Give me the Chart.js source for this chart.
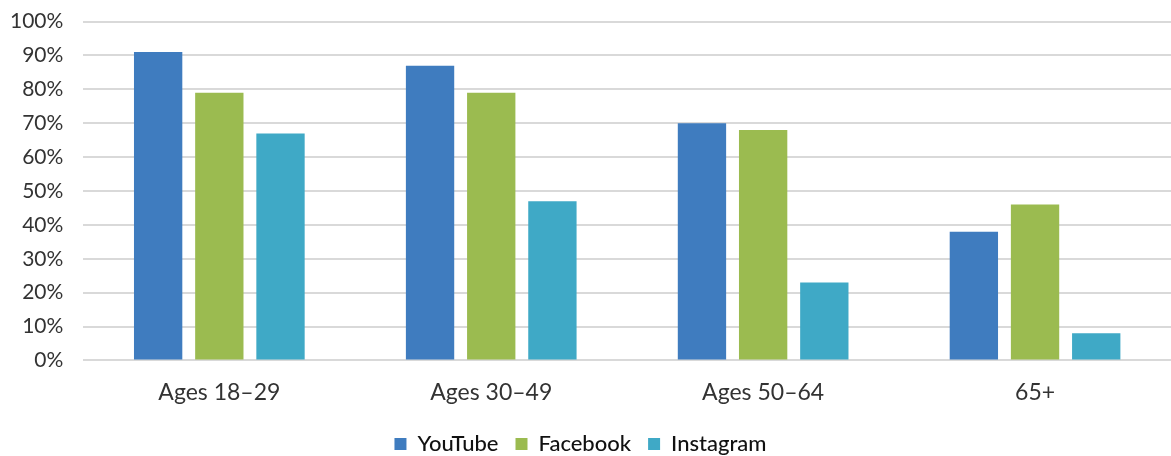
<!DOCTYPE html>
<html>
<head>
<meta charset="utf-8">
<script src="https://cdnjs.cloudflare.com/ajax/libs/Chart.js/4.4.1/chart.umd.min.js"></script>
<style>
  html, body { margin: 0; padding: 0; background: #fff; }
  #frame { width: 1171px; height: 456px; position: relative; overflow: hidden; }
  #wrap { position: absolute; left: 0; top: -11px; width: 1171px; height: 476px; }
</style>
</head>
<body>
<div id="frame"><div id="wrap"><canvas id="chart"></canvas></div></div>
<script>
const categories = ['Ages 18\u201329', 'Ages 30\u201349', 'Ages 50\u201364', '65+'];
const youtube = [91, 87, 70, 38];
const facebook = [79, 79, 68, 46];
const instagram = [67, 47, 23, 8];
const yTicks = [0, 10, 20, 30, 40, 50, 60, 70, 80, 90, 100];

const FONT = 'Lato, "Noto Sans", sans-serif';

function bar(label, data, color) {
  return {
    label: label,
    data: data,
    backgroundColor: color,
    borderWidth: 0,
    barPercentage: 0.79,
    categoryPercentage: 0.675,
  };
}

new Chart(document.getElementById('chart').getContext('2d'), {
  type: 'bar',
  data: {
    labels: categories,
    datasets: [
      bar('YouTube', youtube, '#3F7CBF'),
      bar('Facebook', facebook, '#9BBB50'),
      bar('Instagram', instagram, '#3FA9C6'),
    ],
  },
  options: {
    responsive: true,
    maintainAspectRatio: false,
    animation: false,
    layout: { padding: { top: 0, right: 0, left: -10, bottom: 0 } },
    plugins: {
      tooltip: { enabled: false },
      legend: {
        position: 'bottom',
        labels: {
          boxWidth: 12,
          boxHeight: 12,
          padding: 17,
          color: '#111',
          font: { family: FONT, size: 22, weight: '500' },
        },
      },
    },
    scales: {
      x: {
        grid: { display: false },
        border: { display: false },
        ticks: { color: '#333', font: { family: FONT, size: 23 }, padding: 10 },
      },
      y: {
        min: 0,
        max: 100,
        afterBuildTicks: axis => { axis.ticks = yTicks.map(v => ({ value: v })); },
        grid: { color: '#D9D9D9', lineWidth: 2, drawTicks: false },
        border: { display: false },
        ticks: {
          color: '#333',
          padding: 20,
          font: { family: FONT, size: 21 },
          callback: v => v + '%',
        },
      },
    },
  },
});
</script>
</body>
</html>
